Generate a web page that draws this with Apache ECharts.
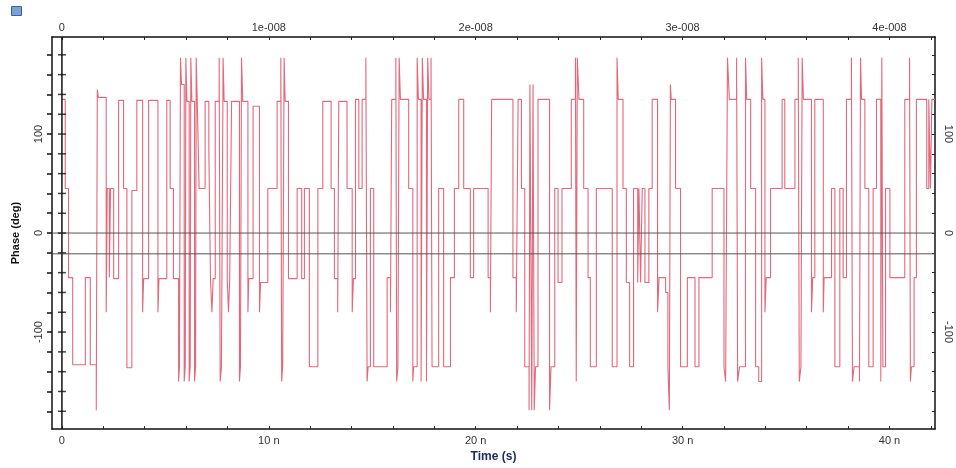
<!DOCTYPE html>
<html>
<head>
<meta charset="utf-8">
<script src="https://cdn.jsdelivr.net/npm/echarts@6/dist/echarts.min.js"></script>
<style>
  html, body { margin: 0; background: #fff; }
  #chart { width: 956px; height: 468px; }
</style>
</head>
<body>
<div id="chart"></div>
<script>
// phase trace: start time of each step (ns) and the phase held until the next step (deg)
const stepTimes = [
  0.00, 0.16, 0.32, 0.52, 1.13, 1.37, 1.66, 1.71, 1.76, 2.14,
  2.19, 2.29, 2.35, 2.50, 2.74, 2.98, 3.14, 3.38, 3.62, 3.90,
  3.95, 4.19, 4.64, 4.69, 5.07, 5.23, 5.39, 5.64, 5.68, 5.73,
  5.78, 5.91, 5.96, 5.99, 6.04, 6.15, 6.20, 6.23, 6.28, 6.41,
  6.46, 6.49, 6.54, 6.63,
  6.92, 7.10, 7.18, 7.25, 7.31, 7.41, 7.60, 7.65, 7.71, 7.79,
  7.84, 7.99, 8.05, 8.11, 8.20, 8.58, 8.63, 8.68, 8.74, 8.99,
  9.03, 9.24, 9.55, 9.60, 9.95, 10.40, 10.58, 10.62, 10.67, 10.74,
  10.79, 10.95, 11.37, 11.59, 11.72, 11.96, 12.37, 12.61, 13.01, 13.17,
  13.33, 13.38,
  13.78, 14.03, 14.09, 14.19, 14.35, 14.51, 14.69, 14.75, 14.80, 14.91,
  15.07, 15.72, 15.88, 15.94, 16.14, 16.18, 16.24, 16.30, 16.36, 16.76,
  16.96, 17.00, 17.17, 17.23, 17.36, 17.42, 17.48, 17.62, 17.68, 17.74,
  17.84, 17.89, 18.21, 18.45, 18.78, 18.97, 19.18, 19.42, 19.74, 19.90,
  20.60, 20.71, 20.77,
  21.80, 21.96, 22.05, 22.21, 22.37, 22.58, 22.62, 22.71, 22.77, 22.83,
  22.89, 23.01, 23.57, 23.64, 23.82, 23.98, 24.17, 24.62, 24.82, 24.86,
  24.91, 24.99, 25.22, 25.43, 25.54, 25.83, 26.60, 26.83, 26.89, 27.12,
  27.28, 27.44, 27.63,
  27.83, 27.89, 27.97, 28.05, 28.18, 28.37, 28.53, 28.79, 28.86, 29.18,
  29.29, 29.36, 29.41, 29.45, 29.66, 29.90, 30.23, 30.60, 30.79, 31.43,
  32.00, 32.08, 32.17, 32.26, 32.61, 32.66, 32.75, 33.04, 33.10, 33.29,
  33.53, 33.68, 33.82, 33.88, 33.98, 34.04, 34.25, 34.81,
  34.94, 35.43, 35.59, 35.64, 35.72, 35.78, 35.84, 36.23, 36.29, 36.39,
  36.80, 36.84, 37.20, 37.36, 37.60, 37.76, 37.92, 38.16, 38.21, 38.29,
  38.55, 38.60, 38.65, 38.81, 39.00, 39.21, 39.37, 39.58, 39.63, 39.68,
  39.81, 40.02, 40.74, 40.97, 41.01, 41.06, 41.19, 41.30, 41.80, 41.90,
  41.98, 42.05
]
const stepPhases = [
  135, 45, -45, -133, -45, -133, -179, 145, 137, -80,
  45, -45, 45, -46, 134, 45, -136, 43, 134, -80,
  -46, 134, -80, -46, 134, 45, -46, -150, -135, 177,
  150, -150, -135, 177, 133, -150, -135, 177, 133, -150,
  -135, 177, 133, 45,
  133, 85, -46, -80, -46, 133, 177, -150, -135, 177,
  133, -46, -80, -46, 133, -150, -135, 177, 133, -80,
  -46, 128, -80, -50, 45, 133, 177, -150, -135, 177,
  133, -46, 45, -46, 45, -135, 45, 133, 45, -46,
  -80, 133,
  45, -80, -46, 135, 45, 135, 177, -150, -135, 45,
  -135, -45, -80, 135, 177, -150, -135, 177, 135, 45,
  -150, -135, 177, 135, -150, 177, 135, -150, 177, 135,
  177, -135, 45, -135, -45, 45, 135, 45, -45, 45,
  -45, -80, 135,
  -45, -80, 135, 45, -135, -179, 150, -179, 150, -179,
  -135, 135, -179, -135, 45, -50, 45, 135, 177, -150,
  177, 135, 45, -45, -135, 45, -135, 177, 135, 45,
  -50, -135, 45,
  -50, 45, -50, 45, -50, 45, 135, -80, -45, -60,
  -135, -179, 150, 135, 45, -135, -45, -135, -45, 45,
  -135, -150, 177, 135, 177, -150, -135, 177, 135, 45,
  -135, -150, 177, 135, -80, -45, 45, 135,
  45, 135, 177, -150, -135, 177, 135, -80, -45, 135,
  -80, -45, 45, -135, 45, -45, 135, 177, -150, -135,
  -150, 177, 135, 45, -135, 45, 135, -150, 177, -135,
  45, -45, 135, 177, -150, -135, -45, 135, 45, 135,
  45, 135
]
const endTime = 42.2

// the two flat grey traces
const refLevels = [0, -21]

// axes
const xMin = -0.48
const xMax = 42.2
const yMin = -198
const yMax = 198
const xLabelValues = [0, 10, 20, 30, 40]
const bottomLabels = ['0', '10 n', '20 n', '30 n', '40 n']
const topLabels = ['0', '1e-008', '2e-008', '3e-008', '4e-008']
const xTickValues = [0, 2, 4, 6, 8, 10, 12, 14, 16, 18, 20, 22, 24, 26, 28, 30, 32, 34, 36, 38, 40, 42]
const yLabelValues = [-100, 0, 100]
const yTickValues = [-180, -160, -140, -120, -100, -80, -60, -40, -20, 0, 20, 40, 60, 80, 100, 120, 140, 160, 180]

const font = 'Liberation Sans, Arial, sans-serif'

// expand the steps into an explicit path: vertical jump at each step time, flat in between
const phaseData = []
stepTimes.forEach((t, i) => {
  if (i > 0) phaseData.push([t, stepPhases[i - 1]])
  phaseData.push([t, stepPhases[i]])
})
phaseData.push([endTime, stepPhases[stepPhases.length - 1]])

const labelAt = (labels) => (v) => {
  const i = xLabelValues.indexOf(Math.round(v))
  return i >= 0 ? labels[i] : ''
}

const axisLineStyle = { color: '#111', width: 1.5 }

const myChart = echarts.init(document.getElementById('chart'))
const option = {
  animation: false,
  backgroundColor: '#fff',
  grid: { left: 52, right: 21, top: 37, bottom: 31 },
  graphic: [
    { type: 'rect', left: 11, top: 6, shape: { width: 10, height: 9 }, style: { fill: '#7e9fd4', stroke: '#3a5fa8', lineWidth: 1 } }
  ],
  xAxis: [
    {
      type: 'value',
      position: 'bottom',
      min: xMin,
      max: xMax,
      name: 'Time (s)',
      nameLocation: 'middle',
      nameGap: 17,
      nameTextStyle: { fontFamily: font, fontWeight: 'bold', fontSize: 12, color: '#1c2c5c' },
      axisLine: { onZero: false, lineStyle: axisLineStyle },
      axisTick: { inside: true, length: 3, customValues: xTickValues, lineStyle: { color: '#222' } },
      axisLabel: { customValues: xLabelValues, formatter: labelAt(bottomLabels), fontFamily: font, fontSize: 11, color: '#333', margin: 6 },
      splitLine: { show: false }
    },
    {
      type: 'value',
      position: 'top',
      min: xMin,
      max: xMax,
      axisLine: { onZero: false, lineStyle: axisLineStyle },
      axisTick: { inside: true, length: 3, customValues: xTickValues, lineStyle: { color: '#222' } },
      axisLabel: { customValues: xLabelValues, formatter: labelAt(topLabels), fontFamily: font, fontSize: 11, color: '#333', margin: 4 },
      splitLine: { show: false }
    }
  ],
  yAxis: [
    {
      type: 'value',
      position: 'left',
      min: yMin,
      max: yMax,
      name: 'Phase (deg)',
      nameLocation: 'middle',
      nameGap: 31,
      nameRotate: 90,
      nameTextStyle: { fontFamily: font, fontWeight: 'bold', fontSize: 11, color: '#111' },
      axisLine: { onZero: false, lineStyle: axisLineStyle },
      axisTick: { length: 5, customValues: yTickValues, lineStyle: { color: '#111', width: 1.5 } },
      axisLabel: { customValues: yLabelValues, rotate: 90, fontFamily: font, fontSize: 11, color: '#333', margin: 8 },
      splitLine: { show: false }
    },
    {
      type: 'value',
      position: 'right',
      min: yMin,
      max: yMax,
      axisLine: { onZero: false, lineStyle: axisLineStyle },
      axisTick: { inside: true, length: 3, customValues: yTickValues, lineStyle: { color: '#222' } },
      axisLabel: { customValues: yLabelValues, rotate: -90, fontFamily: font, fontSize: 11, color: '#333', margin: 8 },
      splitLine: { show: false }
    }
  ],
  series: [
    {
      name: 'Phase',
      type: 'line',
      data: phaseData,
      showSymbol: false,
      symbol: 'none',
      sampling: null,
      lineStyle: { color: '#e3687a', width: 1.1 },
      z: 2
    },
    // vertical trace at t = 0, with ticks crossing it like the left axis
    {
      type: 'line',
      data: [[0, yMin], [0, yMax]],
      symbol: 'none',
      lineStyle: { color: '#111', width: 1.5 },
      z: 3
    },
    {
      type: 'scatter',
      data: yTickValues.map((v) => [0, v]),
      symbol: 'rect',
      symbolSize: [8, 1.5],
      itemStyle: { color: '#111' },
      silent: true,
      z: 3
    },
    ...refLevels.map((lvl) => ({
      type: 'line',
      data: [[xMin, lvl], [xMax, lvl]],
      symbol: 'none',
      lineStyle: { color: '#555', width: 1 },
      z: 3
    }))
  ]
}
myChart.setOption(option)
</script>
</body>
</html>
